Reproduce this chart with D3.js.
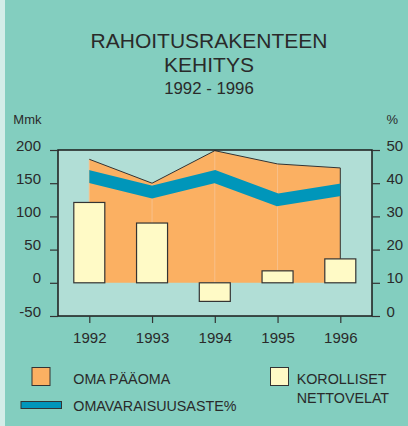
<!DOCTYPE html>
<html>
<head>
<meta charset="utf-8">
<script src="https://cdn.jsdelivr.net/npm/d3@7"></script>
<style>
  html, body { margin: 0; padding: 0; background: #83CEBF; }
  svg { display: block; font-family: "Liberation Sans", Arial, sans-serif; }
</style>
</head>
<body>
<svg id="chart" width="408" height="426"></svg>
<script>
// ---- data ----
const years = ["1992", "1993", "1994", "1995", "1996"];
const omaPaaoma = [186, 150, 199, 179, 173];          // Mmk (area)
const korollisetNettovelat = [121, 90, -28, 18, 36];   // Mmk (bars)
const omavaraisuusaste = [42, 37.3, 42, 35, 38];       // % (line, right axis)
const leftTicks = [-50, 0, 50, 100, 150, 200];
const rightTicks = [0, 10, 20, 30, 40, 50];
const titleLines = ["RAHOITUSRAKENTEEN", "KEHITYS"];
const subtitle = "1992 - 1996";
const leftUnit = "Mmk";
const rightUnit = "%";
const legendLabels = ["OMA PÄÄOMA", "OMAVARAISUUSASTE%", "KOROLLISET", "NETTOVELAT"];

// ---- colours ----
const C = {
  bg: "#83CEBF", strip: "#D3EDE8", plot: "#B1DED6", orange: "#FBB062",
  cream: "#FFFAC6", blue: "#0096BA", ink: "#2a2a2a", frame: "#1a1a1a"
};

const svg = d3.select("#chart");
svg.append("rect").attr("width", 408).attr("height", 426).attr("fill", C.bg);
svg.append("rect").attr("width", 5).attr("height", 426).attr("fill", C.strip);

// ---- scales ----
const plot = { left: 58, right: 372, top: 150, bottom: 316 };
const x = d3.scalePoint().domain(years).range([89.3, 340.3]);
const yL = d3.scaleLinear().domain([-50, 200]).range([plot.bottom, plot.top]);
const yR = d3.scaleLinear().domain([0, 50]).range([plot.bottom, plot.top]);

// ---- title ----
svg.append("text").attr("x", 209).attr("y", 48.3).attr("text-anchor", "middle")
  .attr("font-size", 21).attr("fill", C.ink).text(titleLines[0]);
svg.append("text").attr("x", 209).attr("y", 71.7).attr("text-anchor", "middle")
  .attr("font-size", 21).attr("fill", C.ink).text(titleLines[1]);
svg.append("text").attr("x", 209).attr("y", 94).attr("text-anchor", "middle")
  .attr("font-size", 16.8).attr("fill", C.ink).text(subtitle);

svg.append("text").attr("x", 13.3).attr("y", 124.3).attr("font-size", 13)
  .attr("fill", C.ink).text(leftUnit);
svg.append("text").attr("x", 386.5).attr("y", 124.3).attr("font-size", 13)
  .attr("fill", C.ink).text(rightUnit);

// ---- plot background ----
svg.append("rect").attr("x", plot.left).attr("y", plot.top)
  .attr("width", plot.right - plot.left).attr("height", plot.bottom - plot.top)
  .attr("fill", C.plot);

// ---- area (OMA PÄÄOMA) ----
const areaData = years.map((yr, i) => ({ yr, v: omaPaaoma[i] }));
svg.append("path").datum(areaData)
  .attr("d", d3.area().x(d => x(d.yr)).y0(yL(0)).y1(d => yL(d.v)))
  .attr("fill", C.orange);
svg.selectAll(".agrid").data(areaData.slice(0, 4)).join("line")
  .attr("x1", d => x(d.yr)).attr("x2", d => x(d.yr))
  .attr("y1", yL(0)).attr("y2", d => yL(d.v))
  .attr("stroke", "#F8C08A").attr("stroke-width", 1);
const outline = areaData.map(d => [x(d.yr), yL(d.v)]);
outline.push([x(years[years.length - 1]), yL(0)]);
svg.append("path").attr("d", d3.line()(outline))
  .attr("fill", "none").attr("stroke", "#333").attr("stroke-width", 1);

// ---- line (OMAVARAISUUSASTE) ----
svg.append("clipPath").attr("id", "lineclip").append("rect")
  .attr("x", x(years[0])).attr("y", plot.top)
  .attr("width", x(years[years.length - 1]) - x(years[0])).attr("height", plot.bottom - plot.top);
const lineData = years.map((yr, i) => ({ yr, v: omavaraisuusaste[i] }));
const lineExt = [{ px: x(years[0]) - 10, v: lineData[0].v - (lineData[1].v - lineData[0].v) * 10 / (x(years[1]) - x(years[0])) }]
  .concat(lineData.map(d => ({ px: x(d.yr), v: d.v })))
  .concat([{ px: x(years[4]) + 10, v: lineData[4].v + (lineData[4].v - lineData[3].v) * 10 / (x(years[4]) - x(years[3])) }]);
svg.append("path").datum(lineExt)
  .attr("clip-path", "url(#lineclip)")
  .attr("d", d3.line().x(d => d.px).y(d => yR(d.v)))
  .attr("fill", "none").attr("stroke", C.blue).attr("stroke-width", 12.5)
  .attr("stroke-linejoin", "miter");

// ---- bars (KOROLLISET NETTOVELAT) ----
const barW = 31;
svg.selectAll(".bar").data(years.map((yr, i) => ({ yr, v: korollisetNettovelat[i] })))
  .join("rect")
  .attr("x", d => x(d.yr) - barW / 2)
  .attr("y", d => yL(Math.max(0, d.v)))
  .attr("width", barW)
  .attr("height", d => Math.abs(yL(d.v) - yL(0)))
  .attr("fill", C.cream).attr("stroke", "#333").attr("stroke-width", 1.2);

// ---- frame ----
svg.append("rect").attr("x", plot.left).attr("y", plot.top)
  .attr("width", plot.right - plot.left).attr("height", plot.bottom - plot.top)
  .attr("fill", "none").attr("stroke", C.frame).attr("stroke-width", 1.5);

// ---- axes ----
function styleAxis(g) {
  g.select(".domain").remove();
  g.selectAll(".tick line").attr("stroke", "#333").attr("stroke-width", 1.2);
  g.selectAll(".tick text").attr("fill", C.ink)
    .attr("font-family", "'Liberation Sans', Arial, sans-serif").attr("font-size", 15);
}
const plain = d => String(d);
const gL = svg.append("g").attr("transform", `translate(${plot.left},0)`)
  .call(d3.axisLeft(yL).tickValues(leftTicks).tickFormat(plain).tickSize(8).tickPadding(9).tickSizeOuter(0));
styleAxis(gL);
gL.selectAll(".tick text").attr("dy", "0");

const gR = svg.append("g").attr("transform", `translate(${plot.right},0)`)
  .call(d3.axisRight(yR).tickValues(rightTicks).tickFormat(plain).tickSize(8).tickPadding(6.5).tickSizeOuter(0));
styleAxis(gR);
gR.selectAll(".tick text").attr("dy", "0");

const gB = svg.append("g").attr("transform", `translate(0,${plot.bottom})`)
  .call(d3.axisBottom(x).tickSize(7).tickPadding(9).tickSizeOuter(0));
styleAxis(gB);

// ---- legend ----
const lg = svg.append("g");
lg.append("rect").attr("x", 32).attr("y", 367.5).attr("width", 18).attr("height", 18)
  .attr("fill", C.orange).attr("stroke", "#333").attr("stroke-width", 1);
lg.append("rect").attr("x", 21).attr("y", 401.5).attr("width", 40.5).attr("height", 7)
  .attr("fill", C.blue).attr("stroke", "#333").attr("stroke-width", 1);
lg.append("rect").attr("x", 270.5).attr("y", 367.5).attr("width", 18).attr("height", 18)
  .attr("fill", C.cream).attr("stroke", "#333").attr("stroke-width", 1);
const lt = [
  { t: legendLabels[0], x: 73.3, y: 384.3 },
  { t: legendLabels[1], x: 73.3, y: 410.7 },
  { t: legendLabels[2], x: 296.7, y: 384.3 },
  { t: legendLabels[3], x: 296.7, y: 402.7 }
];
lg.selectAll("text").data(lt).join("text")
  .attr("x", d => d.x).attr("y", d => d.y).attr("font-size", 14.3)
  .attr("fill", C.ink).text(d => d.t);
</script>
</body>
</html>
